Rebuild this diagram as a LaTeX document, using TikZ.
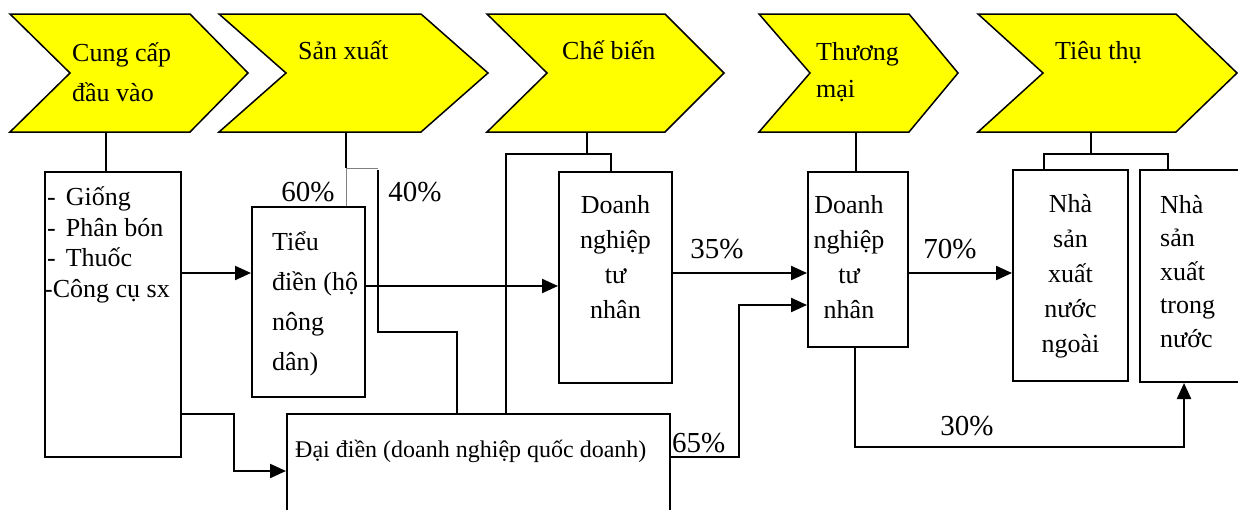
\documentclass[tikz,border=0pt]{standalone}
\usepackage{fontspec}
\setmainfont{Liberation Serif}
\usetikzlibrary{arrows.meta, positioning, calc}

\definecolor{stagefill}{RGB}{255,255,0}
\tikzset{
  stage/.style={draw, fill=stagefill, line width=1.5pt, line join=miter},
  stagetext/.style={inner sep=0pt, align=left, font=\fontsize{26}{40}\selectfont},
  box/.style={draw, line width=2pt, inner sep=0pt, anchor=north west},
  boxtext/.style={inner sep=0pt, font=\fontsize{26}{35}\selectfont},
  link/.style={line width=2pt},
  thin link/.style={line width=1pt, gray},
  flow/.style={line width=2.2pt, -{Triangle[length=16pt,width=14pt]}},
  pct/.style={inner sep=0pt, font=\fontsize{29}{29}\selectfont},
}

\begin{document}
\begin{tikzpicture}[x=1pt, y=-1pt]
  \useasboundingbox (0,0) rectangle (1238,509);
  \clip (0,0) rectangle (1238,509);

  % chain stages
  \draw[stage] (10,14) -- (190,14) -- (248,73) -- (190,132) -- (10,132) -- (70,73) -- cycle;
  \draw[stage] (219,14) -- (421,14) -- (488,73) -- (421,132) -- (219,132) -- (286,73) -- cycle;
  \draw[stage] (487,14) -- (665,14) -- (724,73) -- (665,132) -- (487,132) -- (547,73) -- cycle;
  \draw[stage] (759,14) -- (909,14) -- (958,73) -- (909,132) -- (759,132) -- (810,73) -- cycle;
  \draw[stage] (978,14) -- (1176,14) -- (1237,73) -- (1176,132) -- (978,132) -- (1043,73) -- cycle;
  % (base = last line of each label)
  \node[stagetext, anchor=base west] (input label) at (72,101) {Cung cấp\\đầu vào};
  \node[stagetext, anchor=base west] (prod label) at (298,59) {Sản xuất};
  \node[stagetext, anchor=base west] (proc label) at (562,59) {Chế biến};
  \node[stagetext, anchor=base west, font=\fontsize{26}{37}\selectfont] (trade label) at (816,97) {Thương\\mại};
  \node[stagetext, anchor=base west] (cons label) at (1055,59) {Tiêu thụ};
  \coordinate (s1b) at (106,132);
  \coordinate (s2b) at (346,132);
  \coordinate (s3b) at (587,132);
  \coordinate (s4b) at (856,132);
  \coordinate (s5b) at (1091,132);

  % boxes
  \node[box, minimum width=136, minimum height=285] (input) at (44,171) {};
  \node[box, minimum width=113, minimum height=190] (small) at (251,206) {};
  \node[box, minimum width=383, minimum height=114] (large) at (286,413) {};
  \node[box, minimum width=113, minimum height=211] (proc) at (558,171) {};
  \node[box, minimum width=100, minimum height=175] (trade) at (807,171) {};
  \node[box, minimum width=115, minimum height=211] (foreign) at (1012,169) {};
  \node[box, minimum width=106, minimum height=212] (domestic) at (1139,169) {};

  \node[boxtext, anchor=base west, align=left, font=\fontsize{26}{30.5}\selectfont] (input text)
    at ([xshift=3pt, yshift=-126pt]input.north west)
    {-\hspace{10pt}Giống\\-\hspace{10pt}Phân bón\\-\hspace{10pt}Thuốc\\\hspace{-3pt}-Công cụ sx};
  \node[boxtext, anchor=base west, align=left, font=\fontsize{26}{40}\selectfont] (small text)
    at ([xshift=21pt, yshift=-164pt]small.north west) {Tiểu\\điền (hộ\\nông\\dân)};
  \node[boxtext, anchor=base west, font=\fontsize{24}{30}\selectfont] (large text)
    at ([xshift=9pt, yshift=-44pt]large.north west) {Đại điền (doanh nghiệp quốc doanh)};
  \node[boxtext, anchor=base, align=center] (proc text)
    at ([yshift=-147pt]proc.north) {Doanh\\nghiệp\\tư\\nhân};
  \node[boxtext, anchor=base, align=center] (trade text)
    at ([xshift=-9pt, yshift=-147pt]trade.north) {Doanh\\nghiệp\\tư\\nhân};
  \node[boxtext, anchor=base, align=center] (foreign text)
    at ([yshift=-183pt]foreign.north) {Nhà\\sản\\xuất\\nước\\ngoài};
  \node[boxtext, anchor=base west, align=left, font=\fontsize{26}{33.5}\selectfont] (domestic text)
    at ([xshift=21pt, yshift=-178pt]domestic.north west) {Nhà\\sản\\xuất\\trong\\nước};

  % stage links
  \draw[link] (s1b) -- (s1b |- input.north);
  \draw[link] (s2b) -- ++(0,36) coordinate (split);
  \draw[thin link] (split) -- (split |- small.north);
  \draw[thin link] (split) -- ++(32,0);
  \coordinate (r40) at (378,170);
  \coordinate (k40) at (457,332);
  \draw[link] (r40) |- (k40) -- (k40 |- large.north);
  \coordinate (cbl) at (506,154);
  \coordinate (cbr) at (611,154);
  \draw[link] (s3b) -- (s3b |- cbl);
  \draw[link] (cbl |- large.north) -- (cbl) -- (cbr) -- (cbr |- proc.north);
  \draw[link] (s4b) -- (s4b |- trade.north);
  \coordinate (ttl) at (1044,154);
  \coordinate (ttr) at (1168,154);
  \draw[link] (s5b) -- (s5b |- ttl);
  \draw[link] (ttl |- foreign.north) -- (ttl) -- (ttr) -- (ttr |- domestic.north);

  % flows
  \draw[flow] ([yshift=41.5pt]input.east) -- ([yshift=41.5pt]input.east -| small.west);
  \draw[flow] ([yshift=-99.5pt]input.east) -- ++(52,0) |- (large.west);
  \draw[flow] ([yshift=16pt]small.east) -- ([yshift=16pt]small.east -| proc.west);
  \draw[flow] ([yshift=4.5pt]proc.east) -- ([yshift=4.5pt]proc.east -| trade.west);
  \draw[flow] ([yshift=14pt]large.east) -- ++(68,0) |- ([yshift=-45.5pt]trade.west);
  \draw[flow] ([yshift=-13.5pt]trade.east) -- ([yshift=-13.5pt]trade.east -| foreign.west);
  \draw[flow] ([xshift=-3pt]trade.south) -- ++(0,99) -| ([xshift=-9pt]domestic.south);

  % shares
  \node[pct, anchor=base] (p60) at (308,201) {60\%};
  \node[pct, anchor=base] (p40) at (415,201) {40\%};
  \node[pct, anchor=base] (p35) at (717,258) {35\%};
  \node[pct, anchor=base west] (p65) at (672,452) {65\%};
  \node[pct, anchor=base] (p70) at (950,258) {70\%};
  \node[pct, anchor=base] (p30) at (967,435) {30\%};
\end{tikzpicture}
\end{document}
